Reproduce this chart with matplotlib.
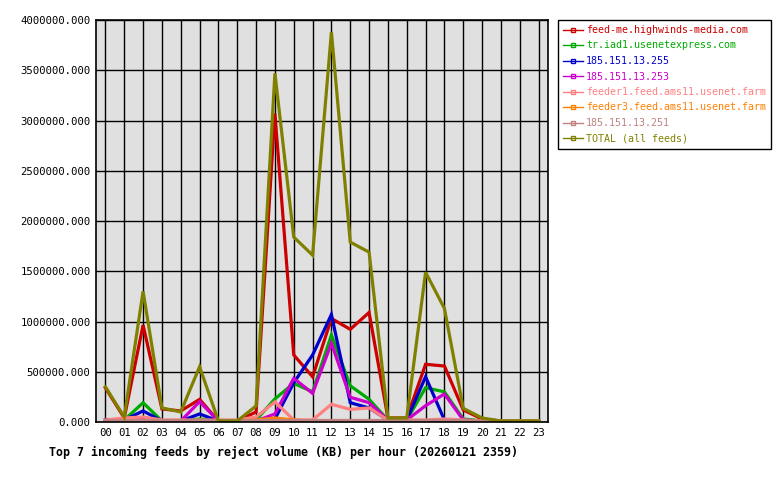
"""Top 7 incoming feeds by reject volume per hour
"""
import numpy as np
import matplotlib
matplotlib.use('Agg')
import matplotlib.pyplot as plt

hours = ['%02d' % h for h in range(24)]

feed_me = [340000, 40000, 965000, 130000, 110000, 225000, 10000, 10000, 100000, 3070000,
           667000, 450000, 1030000, 922000, 1090000, 40000, 40000, 574000, 557000, 120000,
           30000, 10000, 10000, 10000]
tr_iad1 = [20000, 20000, 192000, 10000, 10000, 30000, 10000, 10000, 20000, 230000,
           385000, 300000, 866000, 361000, 226000, 20000, 20000, 341000, 300000, 30000,
           10000, 10000, 10000, 10000]
ip_255 = [20000, 20000, 110000, 10000, 10000, 80000, 10000, 10000, 10000, 30000,
          390000, 667000, 1070000, 192000, 140000, 20000, 20000, 450000, 20000, 10000,
          10000, 10000, 10000, 10000]
ip_253 = [20000, 20000, 40000, 10000, 10000, 202000, 10000, 10000, 10000, 80000,
          435000, 285000, 783000, 246000, 192000, 20000, 20000, 162000, 279000, 20000,
          10000, 10000, 10000, 10000]
feeder1 = [20000, 40000, 50000, 20000, 20000, 20000, 20000, 20000, 50000, 200000,
           20000, 20000, 176000, 126000, 140000, 20000, 20000, 20000, 30000, 20000,
           10000, 10000, 10000, 10000]
feeder3 = [10000, 10000, 10000, 10000, 10000, 10000, 10000, 10000, 20000, 40000,
           20000, 10000, 10000, 10000, 10000, 10000, 10000, 10000, 10000, 10000,
           10000, 10000, 10000, 10000]
ip_251 = [15000, 15000, 15000, 15000, 15000, 15000, 15000, 15000, 15000, 15000,
          15000, 15000, 15000, 15000, 15000, 15000, 15000, 15000, 15000, 15000,
          10000, 10000, 10000, 10000]
total = [350000, 50000, 1300000, 140000, 100000, 550000, 10000, 10000, 160000, 3470000,
         1840000, 1660000, 3880000, 1790000, 1690000, 40000, 40000, 1490000, 1130000, 136000,
         40000, 10000, 10000, 10000]

labels = ['feed-me.highwinds-media.com', 'tr.iad1.usenetexpress.com', '185.151.13.255',
          '185.151.13.253', 'feeder1.feed.ams11.usenet.farm', 'feeder3.feed.ams11.usenet.farm',
          '185.151.13.251', 'TOTAL (all feeds)']
series = [feed_me, tr_iad1, ip_255, ip_253, feeder1, feeder3, ip_251, total]
colors = ['#cc0000', '#00aa00', '#0000cc', '#cc00cc', '#ff8080', '#ff8000', '#c08080', '#808000']

plt.rcParams['font.family'] = ['DejaVu Sans Mono']

fig = plt.figure(figsize=(7.8, 4.8), dpi=100)
ax = fig.add_axes([96 / 780, 1 - 422 / 480, (548 - 96) / 780, (422 - 20) / 480])
ax.set_facecolor('#e0e0e0')

x = np.arange(24)
handles = []
for vals, lab, col in zip(series, labels, colors):
    ax.plot(x, vals, color=col, linewidth=2.3, solid_joinstyle='miter')
    h, = ax.plot([], [], color=col, linewidth=1.0, marker='s', markersize=3,
                 markerfacecolor='none', markeredgecolor=col, label=lab)
    handles.append(h)

ax.set_xlim(-0.5, 23.5)
ax.set_ylim(0, 4000000)
ax.set_xticks(x)
ax.set_xticklabels(hours)
ax.set_yticks(np.arange(0, 4000001, 500000))
ax.set_yticklabels(['%.3f' % v for v in np.arange(0, 4000001, 500000)])
ax.tick_params(length=0, labelsize=7.7, pad=4)
ax.grid(True, color='black', linewidth=1.0)
ax.set_axisbelow(True)
for s in ax.spines.values():
    s.set_linewidth(1.2)

# title sits under the x axis, left-shifted like the original
fig.text(49 / 780, 1 - 452 / 480,
         'Top 7 incoming feeds by reject volume (KB) per hour (20260121 2359)',
         fontsize=8.4, fontweight='bold', ha='left', va='center')

leg = fig.legend(handles=handles, loc='upper left', bbox_to_anchor=(558 / 780, 1 - 20 / 480),
                 fontsize=7.2, handlelength=2.0, handletextpad=0.3, labelspacing=0.55,
                 borderpad=0.5, borderaxespad=0, fancybox=False, edgecolor='black',
                 framealpha=1)
leg.get_frame().set_linewidth(1.0)
for txt, col in zip(leg.get_texts(), colors):
    txt.set_color(col)

plt.savefig('out.png', dpi=100)
